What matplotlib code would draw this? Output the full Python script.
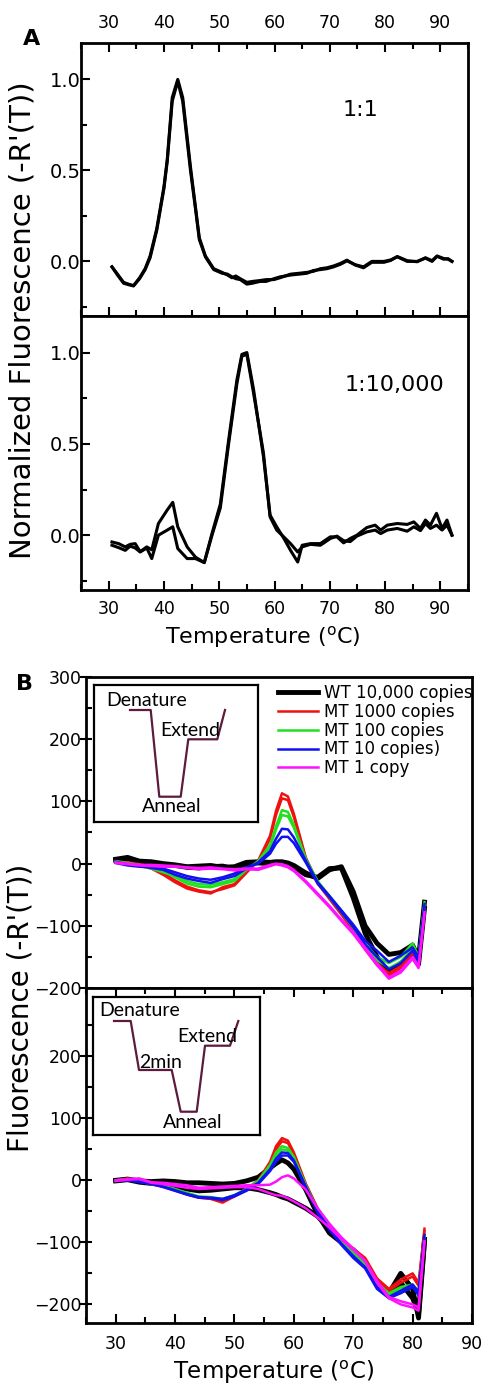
import numpy as np
import matplotlib.pyplot as plt
from matplotlib.ticker import MultipleLocator, FixedLocator, FormatStrFormatter

plt.rcParams['font.family'] = 'DejaVu Sans'
plt.rcParams['mathtext.default'] = 'regular'

# ---------------- panel A data (normalized -R'(T)) ----------------
T_a1 = [30.6, 31.6, 32.7, 33.6, 34.5, 35.6, 36.6, 37.5, 38.7, 40.0, 40.6, 41.5, 42.5, 43.4,
        44.8, 45.7, 46.4, 47.5, 49.0, 50.5, 51.5, 52.3, 53.0, 53.8, 55.0, 56.0, 57.4, 58.5,
        59.9, 61.0, 62.9, 64.5, 65.9, 67.0, 68.3, 69.5, 70.7, 72.0, 73.1, 74.6, 76.1, 77.6,
        79.8, 81.0, 82.2, 84.0, 85.8, 87.3, 88.5, 89.4, 90.6, 91.4, 92.1]
y_a1a = [-0.03, -0.07, -0.115, -0.125, -0.133, -0.09, -0.04, 0.03, 0.18, 0.41, 0.56, 0.9, 1.0, 0.9,
         0.52, 0.3, 0.13, 0.03, -0.04, -0.06, -0.075, -0.09, -0.08, -0.095, -0.115, -0.11, -0.105, -0.1,
         -0.1, -0.09, -0.07, -0.065, -0.06, -0.055, -0.04, -0.035, -0.025, -0.01, 0.007, -0.02, -0.035, -0.005,
         -0.005, 0.005, 0.027, 0.004, -0.002, 0.02, 0.004, 0.03, 0.016, 0.012, 0.0]
y_a1b = [-0.03, -0.075, -0.12, -0.128, -0.135, -0.095, -0.045, 0.02, 0.17, 0.40, 0.55, 0.88, 0.99, 0.88,
         0.50, 0.29, 0.12, 0.025, -0.045, -0.065, -0.07, -0.085, -0.095, -0.1, -0.125, -0.12, -0.11, -0.11,
         -0.095, -0.085, -0.075, -0.07, -0.065, -0.05, -0.045, -0.04, -0.03, -0.015, 0.003, -0.018, -0.03, 0.0,
         0.0, 0.008, 0.025, 0.0, 0.0, 0.018, 0.0, 0.028, 0.012, 0.015, 0.0]

T_a2 = [30.6, 31.8, 33.0, 33.9, 34.8, 35.7, 36.9, 37.8, 39.0, 40.6, 41.6, 42.5, 44.2, 45.7, 47.3,
        48.7, 50.2, 51.7, 53.2, 54.1, 55.0, 56.2, 58.0, 59.2, 60.4, 61.7, 62.9, 64.2, 65.0, 66.5,
        68.3, 70.1, 71.3, 72.5, 73.7, 74.9, 76.7, 78.2, 79.2, 80.4, 82.2, 84.0, 85.2, 86.4, 87.3,
        88.2, 89.3, 90.3, 91.2, 92.1]
y_a2a = [-0.037, -0.046, -0.064, -0.05, -0.046, -0.09, -0.064, -0.08, 0.064, 0.138, 0.18, 0.046, -0.064, -0.12, -0.15,
         0.01, 0.17, 0.52, 0.85, 0.99, 1.0, 0.8, 0.43, 0.11, 0.046, -0.018, -0.083, -0.147, -0.055, -0.046,
         -0.046, -0.009, -0.009, -0.042, -0.018, 0.0, 0.042, 0.055, 0.028, 0.055, 0.064, 0.059, 0.073, 0.037, 0.083,
         0.055, 0.12, 0.037, 0.083, 0.0]
y_a2b = [-0.055, -0.068, -0.083, -0.06, -0.07, -0.092, -0.07, -0.128, 0.0, 0.028, 0.046, -0.073, -0.128, -0.128, -0.15,
         0.0, 0.15, 0.5, 0.83, 0.98, 0.99, 0.78, 0.45, 0.1, 0.028, -0.01, -0.046, -0.092, -0.064, -0.05,
         -0.055, -0.018, -0.005, -0.03, -0.035, -0.005, 0.018, 0.028, 0.009, 0.028, 0.037, 0.022, 0.046, 0.025, 0.064,
         0.037, 0.055, 0.028, 0.055, 0.0]

# ---------------- panel B data (-R'(T)), two replicates per sample ----------------
T_b = [30, 32, 34, 36, 38, 40, 42, 44, 46, 48, 50, 52, 54, 56, 57, 58, 59, 60, 62, 64,
       66, 68, 70, 72, 74, 76, 78, 80, 81, 82]
labels_b = ['WT 10,000 copies', 'MT 1000 copies', 'MT 100 copies', 'MT 10 copies)', 'MT 1 copy']
colors_b = ['black', '#f01010', '#20e020', '#1010f0', '#ff10ff']
widths_b = [3.5, 1.8, 1.8, 1.8, 1.8]

# upper plot (standard protocol)
wt_top = [[7, 10, 4, 3, 0, -2, -5, -4, -3, -6, -5, 2, 3, 2, 3, 3, 1, -3, -15, -24,
           -10, -5, -45, -100, -128, -146, -143, -131, -152, -62],
          [5, 8, 2, 1, -2, -3, -6, -7, -5, -4, -8, 0, 1, 0, 2, 1, 0, -5, -18, -22,
           -8, -7, -55, -112, -150, -175, -160, -150, -162, -72]]
mt1000_top = [[3, 2, -1, -5, -15, -27, -37, -43, -46, -41, -35, -15, 5, 45, 85, 113, 108, 80, 10, -30,
               -55, -80, -105, -135, -160, -176, -165, -140, -160, -68],
              [2, 0, -3, -8, -18, -30, -40, -45, -48, -38, -33, -12, 3, 40, 78, 105, 102, 75, 8, -32,
               -57, -82, -108, -138, -163, -180, -168, -143, -163, -72]]
mt100_top = [[4, 1, -2, -6, -12, -22, -32, -37, -38, -33, -28, -10, 4, 30, 60, 86, 83, 62, 8, -28,
              -52, -76, -100, -128, -150, -160, -150, -128, -150, -62],
             [2, 0, -4, -8, -14, -20, -28, -33, -34, -30, -25, -8, 2, 26, 55, 78, 76, 58, 6, -30,
              -54, -78, -103, -132, -155, -168, -158, -135, -155, -66]]
mt10_top = [[3, -1, -3, -7, -10, -18, -24, -28, -31, -25, -20, -8, 2, 20, 40, 56, 55, 42, 5, -30,
             -52, -75, -98, -124, -140, -158, -148, -135, -150, -65],
            [1, -3, -5, -6, -8, -14, -20, -24, -26, -22, -16, -6, 0, 16, 32, 43, 43, 33, 2, -32,
             -54, -78, -102, -130, -150, -170, -160, -140, -158, -70]]
mt1_top = [[2, 0, -2, -2, -3, -4, -6, -7, -6, -8, -9, -8, -8, -2, 0, -1, -4, -10, -28, -48,
            -68, -90, -110, -135, -160, -183, -172, -150, -165, -78],
           [1, -1, -3, -4, -5, -5, -7, -9, -8, -9, -11, -9, -10, -4, -1, -3, -6, -12, -30, -50,
            -70, -92, -113, -138, -163, -185, -175, -153, -168, -82]]

# lower plot (with 2 min step)
wt_bot = [[0, 2, -1, -2, -1, -2, -4, -4, -5, -6, -5, -1, 5, 20, 27, 33, 28, 18, -15, -55,
           -85, -100, -112, -130, -165, -182, -150, -175, -222, -100],
          [-1, 1, -3, -5, -7, -10, -14, -17, -16, -14, -12, -12, -15, -20, -23, -27, -30, -35, -45, -58,
           -78, -97, -115, -132, -165, -185, -165, -190, -215, -95]]
mt1000_bot = [[0, 3, 0, -4, -9, -15, -22, -27, -28, -34, -25, -14, 0, 30, 55, 68, 64, 45, -5, -45,
               -73, -95, -110, -125, -158, -175, -160, -150, -165, -78],
              [-1, 1, -1, -5, -10, -16, -23, -28, -30, -36, -26, -15, -2, 27, 50, 63, 60, 42, -7, -47,
               -75, -97, -112, -128, -160, -178, -165, -155, -170, -82]]
mt100_bot = [[0, 2, -1, -5, -9, -14, -20, -26, -27, -30, -24, -14, -1, 25, 45, 55, 52, 38, -8, -48,
              -75, -97, -115, -132, -165, -182, -172, -168, -178, -90],
             [-1, 1, -2, -6, -10, -15, -21, -27, -28, -31, -25, -15, -3, 22, 40, 50, 48, 35, -10, -50,
              -77, -99, -118, -135, -168, -185, -176, -170, -182, -92]]
mt10_bot = [[0, 1, -2, -5, -10, -16, -22, -27, -28, -30, -24, -15, -4, 18, 35, 45, 44, 32, -10, -50,
             -78, -102, -122, -140, -172, -188, -178, -168, -180, -88],
            [-1, 0, -3, -6, -11, -17, -23, -28, -29, -32, -26, -17, -6, 15, 30, 40, 40, 30, -12, -52,
             -80, -104, -125, -142, -175, -190, -182, -172, -185, -95]]
mt1_bot = [[0, 2, 3, -3, -4, -6, -8, -12, -11, -10, -9, -8, -8, -7, -2, 5, 8, 3, -15, -45,
            -70, -92, -110, -130, -165, -190, -200, -205, -210, -100],
           [-1, 1, 2, -4, -6, -9, -12, -14, -13, -12, -11, -11, -14, -21, -24, -25, -29, -34, -45, -60,
            -76, -95, -112, -130, -162, -188, -195, -200, -205, -98]]

# thermal-cycling schematics for the insets (time, level in arbitrary units)
prof1_t = [36, 56.7, 65.3, 86.7, 94.3, 123.3, 131]
prof1_v = [112, 112, 25.3, 25.3, 82.7, 82.7, 112]
prof2_t = [21, 37.7, 46, 78.7, 87.7, 103.7, 112, 137, 145.3]
prof2_v = [114, 114, 65, 65, 23.3, 23.3, 89.3, 89.3, 114]

# ---------------- figure ----------------
W, H = 490, 1384
fig = plt.figure(figsize=(W / 100, H / 100), dpi=100)


def box(l, t, r, b):
    return [l / W, 1 - b / H, (r - l) / W, (b - t) / H]


axA1 = fig.add_axes(box(81, 43, 468, 316))
axA2 = fig.add_axes(box(81, 316, 468, 590))
axB1 = fig.add_axes(box(86, 677, 472, 988))
axB2 = fig.add_axes(box(86, 988, 472, 1323))

for ax in (axA1, axA2, axB1, axB2):
    for s in ax.spines.values():
        s.set_linewidth(2)

# panel A
axA1.plot(T_a1, y_a1a, color='k', lw=2.2)
axA1.plot(T_a1, y_a1b, color='k', lw=2.2)
axA2.plot(T_a2, y_a2a, color='k', lw=2.2)
axA2.plot(T_a2, y_a2b, color='k', lw=2.2)

for ax in (axA1, axA2):
    ax.set_xlim(25, 95)
    ax.set_ylim(-0.3, 1.2)
    ax.xaxis.set_major_locator(MultipleLocator(10))
    ax.xaxis.set_minor_locator(MultipleLocator(5))
    ax.yaxis.set_major_locator(MultipleLocator(0.5))
    ax.yaxis.set_minor_locator(MultipleLocator(0.25))
    ax.yaxis.set_major_formatter(FormatStrFormatter('%.1f'))
    ax.tick_params(which='both', direction='in', width=1.5, right=False, labelsize=12.5)
    ax.tick_params(which='major', length=6.5)
    ax.tick_params(which='minor', length=4)
    ax.tick_params(axis='y', pad=0.5, labelsize=14)

axA1.tick_params(axis='x', which='both', top=True, bottom=True, labeltop=True, labelbottom=False, pad=8)
axA2.tick_params(axis='x', which='both', top=False, bottom=True, pad=7)

axA1.text(0.677, 0.755, '1:1', transform=axA1.transAxes, fontsize=16, va='center')
axA2.text(0.682, 0.748, '1:10,000', transform=axA2.transAxes, fontsize=16, va='center')

# panel B
for ax, groups in ((axB1, [wt_top, mt1000_top, mt100_top, mt10_top, mt1_top]),
                   (axB2, [wt_bot, mt1000_bot, mt100_bot, mt10_bot, mt1_bot])):
    for reps, lab, c, lw in zip(groups, labels_b, colors_b, widths_b):
        for i, y in enumerate(reps):
            ax.plot(T_b, y, color=c, lw=lw, label=lab if i == 0 else None)
    ax.set_xlim(25, 90)
    ax.xaxis.set_major_locator(MultipleLocator(10))
    ax.xaxis.set_minor_locator(MultipleLocator(5))
    ax.tick_params(axis='y', which='major', direction='inout', length=8, width=1.5, pad=-1, labelsize=12.5)
    ax.tick_params(axis='y', which='minor', direction='in', length=4, width=1.5)
    ax.tick_params(axis='y', which='both', right=False)

axB1.set_ylim(-200, 300)
axB1.yaxis.set_major_locator(MultipleLocator(100))
axB1.yaxis.set_minor_locator(MultipleLocator(50))
axB1.tick_params(axis='x', which='both', bottom=False, top=False, labelbottom=False)

axB2.set_ylim(-230, 310)
axB2.yaxis.set_major_locator(FixedLocator([-200, -100, 0, 100, 200]))
axB2.yaxis.set_minor_locator(FixedLocator([-150, -50, 50, 150, 250]))
axB2.tick_params(axis='x', which='both', direction='in', top=True, bottom=True, width=1.5,
                 labelsize=12.5, pad=8.5)
axB2.tick_params(axis='x', which='major', length=6.5)
axB2.tick_params(axis='x', which='minor', length=4)

axB1.legend(loc='upper left', bbox_to_anchor=(0.497, 0.978), frameon=False, fontsize=12,
            borderpad=0, borderaxespad=0, handlelength=2.4, handletextpad=0.35, labelspacing=0.05)

# insets with the cycling profiles
inset_col = '#5c1a3c'
ins1 = fig.add_axes(box(94, 685, 258, 822))
ins1.set_xlim(0, 164)
ins1.set_ylim(0, 137)
ins1.plot(prof1_t, prof1_v, color=inset_col, lw=1.6)
ins1.text(12, 121, 'Denature', fontsize=14, family='Lato', va='center')
ins1.text(66, 91, 'Extend', fontsize=14, family='Lato', va='center')
ins1.text(48, 16, 'Anneal', fontsize=14, family='Lato', va='center')

ins2 = fig.add_axes(box(93, 997, 260, 1135))
ins2.set_xlim(0, 167)
ins2.set_ylim(0, 138)
ins2.plot(prof2_t, prof2_v, color=inset_col, lw=1.6)
ins2.text(6, 124, 'Denature', fontsize=14, family='Lato', va='center')
ins2.text(84, 98, 'Extend', fontsize=14, family='Lato', va='center')
ins2.text(46, 72, '2min', fontsize=14, family='Lato', va='center')
ins2.text(70, 13, 'Anneal', fontsize=14, family='Lato', va='center')

for ins in (ins1, ins2):
    ins.set_xticks([])
    ins.set_yticks([])
    for s in ins.spines.values():
        s.set_linewidth(1.6)

# labels
fig.text(32 / W, 1 - 39 / H, 'A', fontsize=16, fontweight='bold', ha='center', va='center')
fig.text(24 / W, 1 - 684 / H, 'B', fontsize=16, fontweight='bold', ha='center', va='center')
fig.text(23 / W, 1 - 320 / H, "Normalized Fluorescence (-R'(T))", rotation=90, fontsize=21,
         ha='center', va='center')
fig.text(21 / W, 1 - 1008 / H, "Fluorescence (-R'(T))", rotation=90, fontsize=20,
         ha='center', va='center')
fig.text(263 / W, 1 - 637 / H, r'Temperature ($^{o}$C)', fontsize=16, ha='center', va='center')
fig.text(274 / W, 1 - 1372 / H, r'Temperature ($^{o}$C)', fontsize=16.5, ha='center', va='center')

fig.savefig('out.png', dpi=100)
